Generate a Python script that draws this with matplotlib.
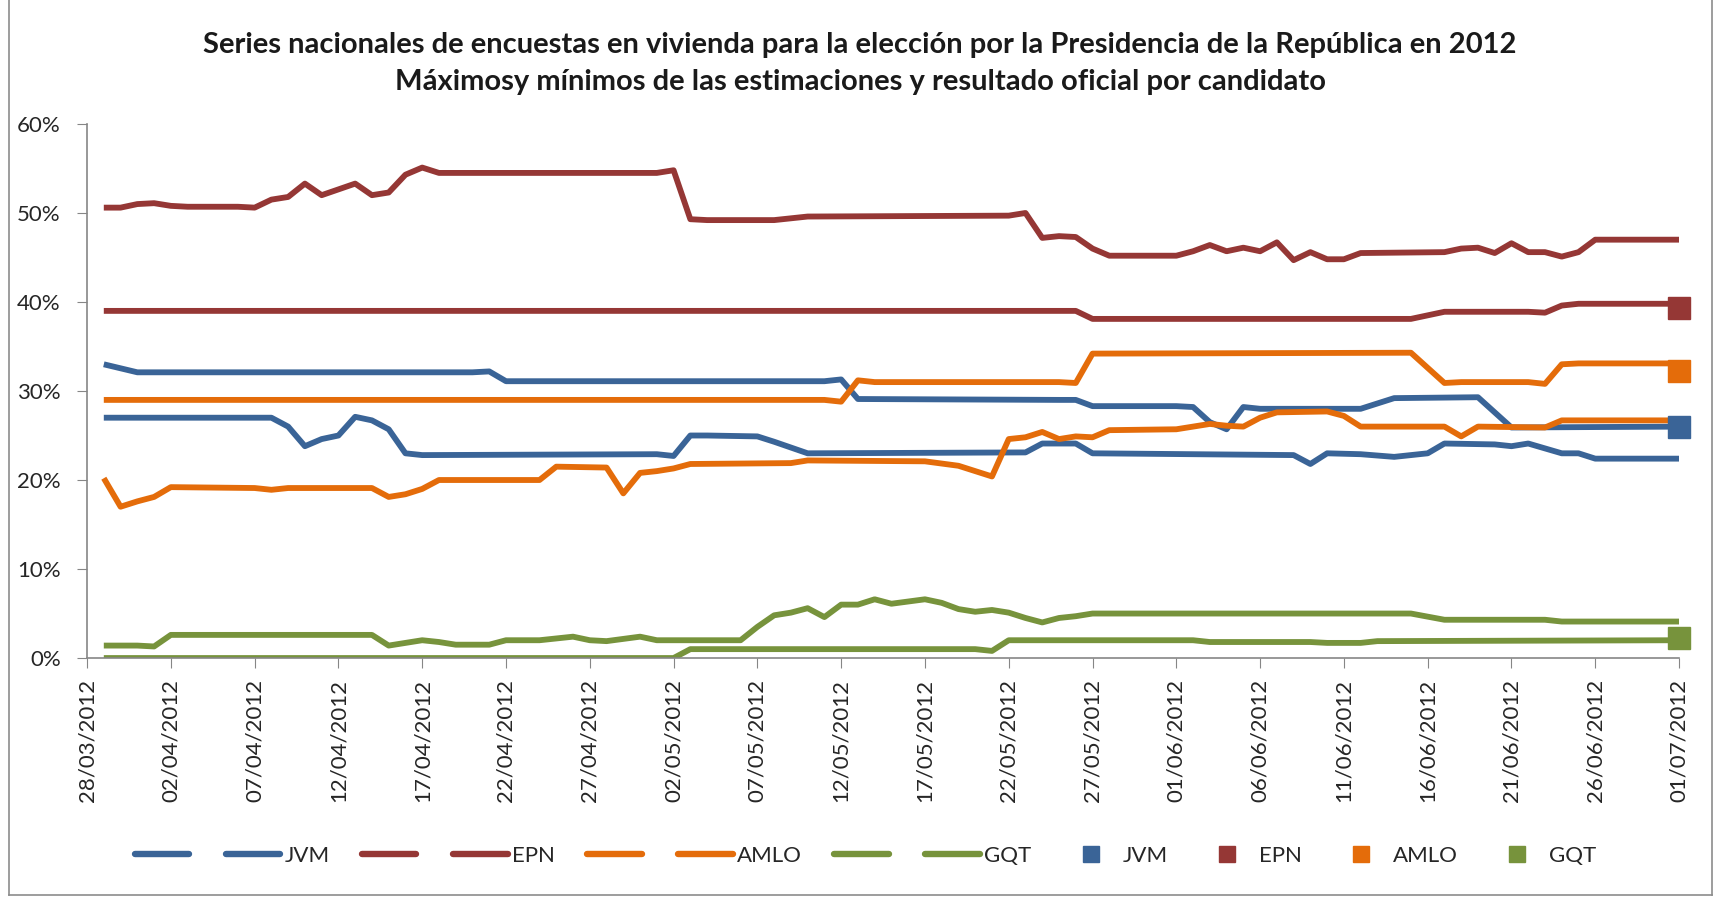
import numpy as np
import pandas as pd
import matplotlib
matplotlib.use("Agg")
import matplotlib.pyplot as plt
from matplotlib.lines import Line2D
from matplotlib.ticker import FuncFormatter

plt.rcParams['font.family'] = ['Lato', 'DejaVu Sans']

INICIO = pd.Timestamp("2012-03-28")
FIN = pd.Timestamp("2012-07-01")

# dias contados desde el 28/03/2012, valores en %
jvm_max_dias = [1, 3, 23, 24, 25, 44, 45, 46, 58, 59, 60, 65, 66, 67, 68, 69, 70, 76, 78, 83, 85, 95]
jvm_max = [33.0, 32.1, 32.1, 32.2, 31.1, 31.1, 31.3, 29.1, 29.0, 29.0, 28.3, 28.3, 28.2, 26.5, 25.7, 28.2, 28.0, 28.0, 29.2, 29.3, 25.9, 26.0]

jvm_min_dias = [1, 11, 12, 13, 14, 15, 16, 17, 18, 19, 20, 34, 35, 36, 37, 40, 41, 43, 56, 57, 59, 60,
                72, 73, 74, 76, 78, 80, 81, 84, 85, 86, 88, 89, 90, 95]
jvm_min = [27.0, 27.0, 26.0, 23.8, 24.6, 25.0, 27.1, 26.7, 25.7, 23.0, 22.8, 22.9, 22.7, 25.0, 25.0, 24.9, 24.3, 23.0, 23.1, 24.1, 24.1, 23.0,
           22.8, 21.8, 23.0, 22.9, 22.6, 23.0, 24.1, 24.0, 23.8, 24.1, 23.0, 23.0, 22.4, 22.4]

epn_max_dias = [1, 2, 3, 4, 5, 6, 9, 10, 11, 12, 13, 14, 16, 17, 18, 19, 20, 21, 34, 35, 36, 37, 41, 43, 55, 56, 57, 58, 59, 60, 61,
                65, 66, 67, 68, 69, 70, 71, 72, 73, 74, 75, 76, 81, 82, 83, 84, 85, 86, 87, 88, 89, 90, 95]
epn_max = [50.6, 50.6, 51.0, 51.1, 50.8, 50.7, 50.7, 50.6, 51.5, 51.8, 53.3, 52.0, 53.3, 52.0, 52.3, 54.3, 55.1, 54.5, 54.5, 54.8, 49.3, 49.2, 49.2, 49.6, 49.7, 50.0, 47.2, 47.4, 47.3, 46.0, 45.2,
           45.2, 45.7, 46.4, 45.7, 46.1, 45.7, 46.7, 44.7, 45.6, 44.8, 44.8, 45.5, 45.6, 46.0, 46.1, 45.5, 46.6, 45.6, 45.6, 45.1, 45.6, 47.0, 47.0]

epn_min_dias = [1, 59, 60, 79, 81, 86, 87, 88, 89, 95]
epn_min = [39.0, 39.0, 38.1, 38.1, 38.9, 38.9, 38.8, 39.6, 39.8, 39.8]

amlo_max_dias = [1, 44, 45, 46, 47, 58, 59, 60, 79, 81, 82, 86, 87, 88, 89, 95]
amlo_max = [29.0, 29.0, 28.8, 31.2, 31.0, 31.0, 30.9, 34.2, 34.3, 30.9, 31.0, 31.0, 30.8, 33.0, 33.1, 33.1]

amlo_min_dias = [1, 2, 3, 4, 5, 10, 11, 12, 17, 18, 19, 20, 21, 27, 28, 31, 32, 33, 34, 35, 36, 42, 43, 50, 52, 53, 54,
                 55, 56, 57, 58, 59, 60, 61, 65, 67, 68, 69, 70, 71, 74, 75, 76, 81, 82, 83, 87, 88, 95]
amlo_min = [20.2, 17.0, 17.6, 18.1, 19.2, 19.1, 18.9, 19.1, 19.1, 18.1, 18.4, 19.0, 20.0, 20.0, 21.5, 21.4, 18.5, 20.8, 21.0, 21.3, 21.8, 21.9, 22.2, 22.1, 21.6, 21.0, 20.4,
            24.6, 24.8, 25.4, 24.6, 24.9, 24.8, 25.6, 25.7, 26.3, 26.1, 26.0, 27.0, 27.6, 27.7, 27.2, 26.0, 26.0, 24.9, 26.0, 25.9, 26.7, 26.7]

gqt_max_dias = [1, 3, 4, 5, 17, 18, 20, 21, 22, 24, 25, 27, 29, 30, 31, 33, 34, 39, 40, 41, 42, 43, 44, 45, 46, 47, 48, 50, 51,
                52, 53, 54, 55, 56, 57, 58, 59, 60, 79, 81, 87, 88, 95]
gqt_max = [1.4, 1.4, 1.3, 2.6, 2.6, 1.4, 2.0, 1.8, 1.5, 1.5, 2.0, 2.0, 2.4, 2.0, 1.9, 2.4, 2.0, 2.0, 3.5, 4.8, 5.1, 5.6, 4.6, 6.0, 6.0, 6.6, 6.1, 6.6, 6.2,
           5.5, 5.2, 5.4, 5.1, 4.5, 4.0, 4.5, 4.7, 5.0, 5.0, 4.3, 4.3, 4.1, 4.1]

gqt_min_dias = [1, 35, 36, 53, 54, 55, 66, 67, 73, 74, 76, 77, 95]
gqt_min = [0.0, 0.0, 1.0, 1.0, 0.8, 2.0, 2.0, 1.8, 1.8, 1.7, 1.7, 1.9, 2.0]

candidatos = ["JVM", "EPN", "AMLO", "GQT"]
resultado_oficial = [26.0, 39.3, 32.3, 2.2]
colores = ["#3A6497", "#953735", "#E46C0A", "#77933C"]

series = [
    (jvm_max_dias, jvm_max, jvm_min_dias, jvm_min),
    (epn_max_dias, epn_max, epn_min_dias, epn_min),
    (amlo_max_dias, amlo_max, amlo_min_dias, amlo_min),
    (gqt_max_dias, gqt_max, gqt_min_dias, gqt_min),
]


def fechas(dias):
    return INICIO + pd.to_timedelta(dias, unit="D")


fig = plt.figure(figsize=(17.17, 8.97), dpi=100)
ax = fig.add_axes([0.0507, 0.2664, 0.9272, 0.5954])

LW = 4.2
estilo = dict(lw=LW, solid_joinstyle='round', solid_capstyle='butt')

handles = []
labels = []
for nombre, color, (dmax, vmax, dmin, vmin) in zip(candidatos, colores, series):
    ax.plot(fechas(dmax), vmax, color=color, **estilo)
    ax.plot(fechas(dmin), vmin, color=color, **estilo)
    handles += [Line2D([], [], color=color, lw=LW + 0.4, solid_capstyle='round'),
                Line2D([], [], color=color, lw=LW + 0.4, solid_capstyle='round')]
    labels += ["", nombre]

for nombre, color, valor in zip(candidatos, colores, resultado_oficial):
    ax.plot([FIN], [valor], marker='s', ms=16, color=color, ls='none', clip_on=False, zorder=5)
    handles.append(Line2D([], [], color=color, marker='s', ms=11, ls='none'))
    labels.append(nombre)

ax.set_xlim(INICIO, FIN)
ax.set_ylim(0, 60)

ticks = pd.date_range(INICIO, FIN, freq="5D")
ax.set_xticks(ticks)
ax.set_xticklabels([t.strftime("%d/%m/%Y") for t in ticks], rotation=90, fontsize=16, color="#262626")
ax.set_yticks(np.arange(0, 61, 10))
ax.yaxis.set_major_formatter(FuncFormatter(lambda v, p: f"{v:.0f}%"))
ax.tick_params(axis='y', labelsize=16, labelcolor="#262626", length=7, color="#868686", pad=12)
ax.tick_params(axis='x', length=7, color="#868686", pad=8)

for lado in ["top", "right"]:
    ax.spines[lado].set_visible(False)
for lado in ["left", "bottom"]:
    ax.spines[lado].set_color("#868686")
    ax.spines[lado].set_linewidth(1.2)

fig.text(0.501, 0.950, "Series nacionales de encuestas en vivienda para la elección por la Presidencia de la República en 2012",
         ha='center', va='center', fontsize=21, fontweight='bold', color="#1a1a1a")
fig.text(0.501, 0.909, "Máximosy mínimos de las estimaciones y resultado oficial por candidato",
         ha='center', va='center', fontsize=21, fontweight='bold', color="#1a1a1a")

fig.legend(handles, labels, loc='center', bbox_to_anchor=(0.504, 0.046), ncol=12, frameon=False,
           fontsize=16, handlelength=2.45, handletextpad=0.2, columnspacing=1.45, labelcolor="#262626")

# borde del area del grafico
borde = dict(color="#8c8c8c", lw=1.2, transform=fig.transFigure)
fig.add_artist(Line2D([0.005, 0.005], [0.002, 1.0], **borde))
fig.add_artist(Line2D([0.997, 0.997], [0.002, 1.0], **borde))
fig.add_artist(Line2D([0.005, 0.997], [0.002, 0.002], **borde))

fig.savefig("out.png", dpi=100)
